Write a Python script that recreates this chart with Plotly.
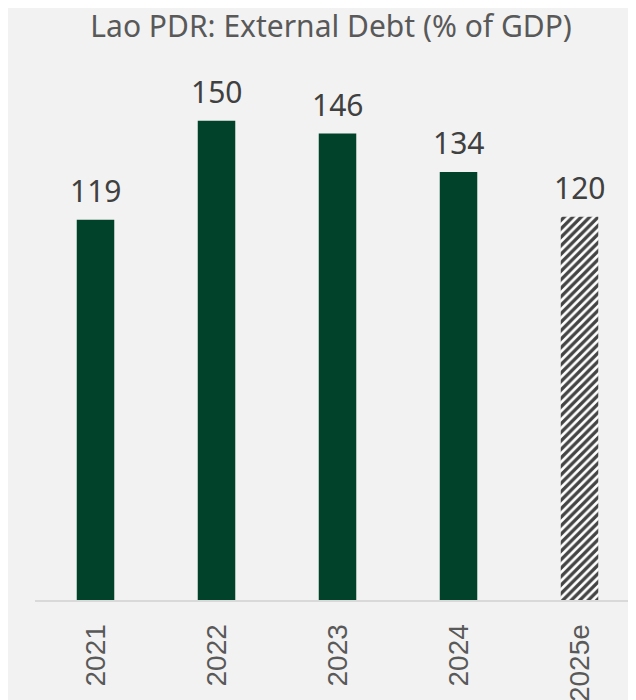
import plotly.graph_objects as go

categories = ["2021", "2022", "2023", "2024", "2025e"]
values = [119, 150, 146, 134, 120]
is_estimate = [False, False, False, False, True]

GREEN = "#00432a"
BG = "#f2f2f2"

fig = go.Figure()
fig.add_trace(go.Bar(
    x=categories,
    y=values,
    width=0.31,
    marker=dict(
        color=[("#ffffff" if e else GREEN) for e in is_estimate],
        line=dict(width=0),
        pattern=dict(
            shape=[("/" if e else "") for e in is_estimate],
            fillmode="overlay",
            fgcolor=GREEN,
            fgopacity=1,
            size=6,
            solidity=0.55,
        ),
    ),
    hoverinfo="skip",
))

for i, v in enumerate(values):
    fig.add_annotation(
        x=i, y=v, text=str(v), showarrow=False,
        xref="x", yref="y",
        yanchor="middle", yshift=29,
        font=dict(family="Noto Sans", size=30, color="#404040"),
    )

fig.update_layout(
    width=636,
    height=700,
    paper_bgcolor=BG,
    plot_bgcolor=BG,
    margin=dict(l=27, r=0, t=17, b=108, autoexpand=False),
    showlegend=False,
    title=dict(
        text="Lao PDR: External Debt (% of GDP)",
        x=0.508, xanchor="center",
        y=1 - 18 / 700, yanchor="middle",
        font=dict(family="Noto Sans", size=30, color="#595959"),
    ),
    xaxis=dict(
        type="category",
        range=[-0.5, 4.533],
        automargin=False,
        tickangle=-90,
        tickfont=dict(family="Liberation Sans", size=28, color="#595959"),
        showline=True,
        linecolor="#d9d9d9",
        linewidth=2,
        showgrid=False,
        ticks="",
        ticklabelstandoff=11,
    ),
    yaxis=dict(
        range=[0, 180],
        visible=False,
        automargin=False,
        showgrid=False,
        zeroline=False,
    ),
)

fig.write_html("out.html")
